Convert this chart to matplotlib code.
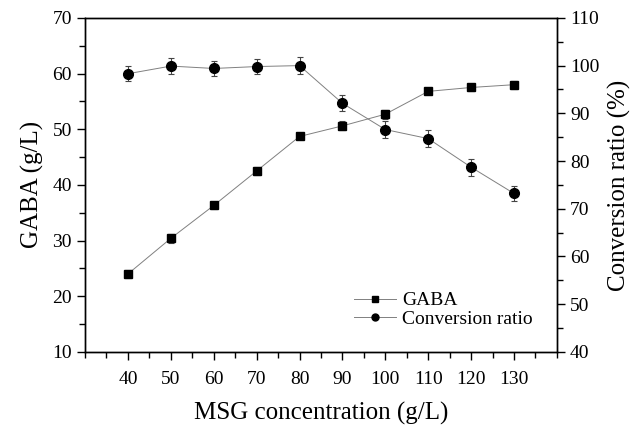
import matplotlib
matplotlib.use("Agg")
import matplotlib.pyplot as plt
from matplotlib.ticker import MultipleLocator
from matplotlib.lines import Line2D

msg = [40, 50, 60, 70, 80, 90, 100, 110, 120, 130]
gaba = [24.0, 30.4, 36.3, 42.5, 48.7, 50.6, 52.7, 56.8, 57.5, 58.0]
gaba_err = [0.7, 0.8, 0.7, 0.7, 0.5, 0.8, 0.8, 0.5, 0.7, 0.7]
conv = [98.3, 99.9, 99.4, 99.8, 100.0, 92.1, 86.6, 84.7, 78.7, 73.2]
conv_err = [1.6, 1.7, 1.6, 1.6, 1.8, 1.7, 1.8, 1.8, 1.8, 1.6]

plt.rcParams['font.family'] = ['Liberation Serif', 'DejaVu Serif']

fig = plt.figure(figsize=(6.3, 4.26), dpi=100)
ax = fig.add_axes([0.135, 0.174, 0.749, 0.784])
ax2 = ax.twinx()

lc = '#808080'
ax.errorbar(msg, gaba, yerr=gaba_err, color=lc, lw=0.7, marker='s', ms=6,
            mfc='black', mec='black', ecolor='#444444', elinewidth=0.8, capsize=2.5, capthick=0.8, zorder=3)
ax2.errorbar(msg, conv, yerr=conv_err, color=lc, lw=0.7, marker='o', ms=7,
             mfc='black', mec='black', ecolor='#444444', elinewidth=0.8, capsize=2.5, capthick=0.8, zorder=3)

ax.set_xlim(30, 140)
ax.set_ylim(10, 70)
ax2.set_ylim(40, 110)
ax.set_xticks(msg)
ax.xaxis.set_minor_locator(MultipleLocator(5))
ax.yaxis.set_major_locator(MultipleLocator(10))
ax.yaxis.set_minor_locator(MultipleLocator(5))
ax2.yaxis.set_major_locator(MultipleLocator(10))
ax2.yaxis.set_minor_locator(MultipleLocator(5))

for a in (ax, ax2):
    a.tick_params(which='both', direction='out', labelsize=14, width=1)
    a.tick_params(which='major', length=6)
    a.tick_params(which='minor', length=4)
    for s in a.spines.values():
        s.set_linewidth(1)
ax.tick_params(axis='x', which='both', pad=8)
ax.tick_params(axis='y', which='both', right=False)
ax2.tick_params(axis='y', which='both', left=False)

ax.set_xlabel('MSG concentration (g/L)', fontsize=18, labelpad=10)
ax.set_ylabel('GABA (g/L)', fontsize=18, labelpad=6)
ax2.set_ylabel('Conversion ratio (%)', fontsize=18, labelpad=6)

handles = [Line2D([], [], color=lc, lw=0.7, marker='s', ms=4, mfc='black', mec='black'),
           Line2D([], [], color=lc, lw=0.7, marker='o', ms=5, mfc='black', mec='black')]
ax.legend(handles, ['GABA', 'Conversion ratio'], loc='upper left',
          bbox_to_anchor=(0.546, 0.338), bbox_transform=fig.transFigure,
          frameon=False, fontsize=14, handlelength=2.2, handletextpad=0.3,
          labelspacing=0.05, borderpad=0)

fig.savefig('out.png', dpi=100)
